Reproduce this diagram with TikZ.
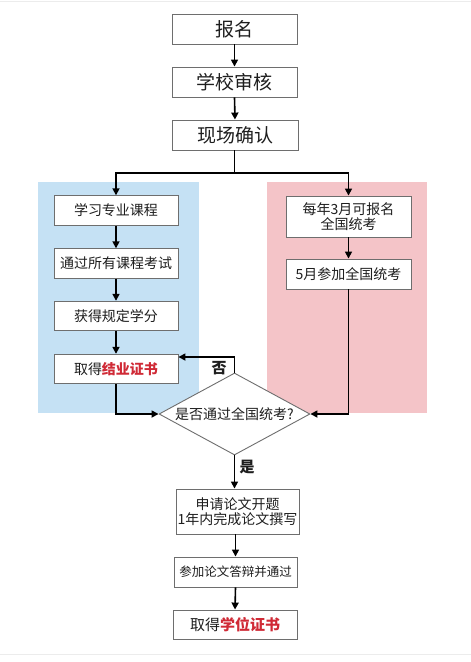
\documentclass[tikz,border=0pt]{standalone}
\usepackage{fontspec}
\newfontfamily\cjk{Noto Sans CJK SC}
\usetikzlibrary{arrows.meta,shapes.geometric}
\definecolor{bgblue}{HTML}{C5E1F4}
\definecolor{bgpink}{HTML}{F4C4C8}
\definecolor{boxline}{HTML}{6E6E6E}
\definecolor{redtxt}{HTML}{D02A36}
\definecolor{txt}{HTML}{1E1E1E}
\tikzset{
  box/.style={draw=boxline, line width=0.9pt, fill=white, text=txt, align=center, inner sep=0pt, font=\cjk\fontsize{14}{16.5}\selectfont},
  bigbox/.style={box, minimum width=125pt, minimum height=30pt, font=\cjk\fontsize{19}{22}\selectfont},
  sidebox/.style={box, minimum width=124pt, minimum height=29.5pt},
  arr/.style={line width=1.6pt, -{Triangle[length=7pt,width=7pt]}},
  conn/.style={line width=1.6pt},
  lbl/.style={font=\cjk\bfseries\fontsize{15}{17}\selectfont, text=txt, inner sep=0pt},
  red/.style={text=redtxt, font=\bfseries}
}
\begin{document}
\begin{tikzpicture}[x=1pt,y=-1pt]
\useasboundingbox (0,0) rectangle (471,662);
\fill[white] (0,0) rectangle (471,662);
\draw[gray!15, line width=0.8pt] (0,1.5) -- (471,1.5);
\draw[gray!15, line width=0.8pt] (0,654) -- (471,654);
% background panels
\fill[bgblue] (38,182) rectangle (199,413);
\fill[bgpink] (267,182) rectangle (427,413);
% main column
\node[bigbox] (r1) at (234.5,29) {报名};
\node[bigbox] (r2) at (234.5,82) {学校审核};
\node[bigbox, minimum width=126pt] (r3) at (235,135) {现场确认};
% left column
\node[sidebox] (L1) at (116,210.5) {学习专业课程};
\node[sidebox] (L2) at (116,263.5) {通过所有课程考试};
\node[sidebox] (L3) at (116,316) {获得规定学分};
\node[sidebox] (L4) at (116,369) {取得{\color{redtxt}\bfseries 结业证书}};
% right column
\node[box, minimum width=125pt, minimum height=41pt] (R1) at (348.5,216.5) {每年3月可报名\\[-2pt]全国统考};
\node[box, minimum width=125pt, minimum height=30pt] (R2) at (348.5,274) {5月参加全国统考};
% decision
\node[diamond, draw=boxline, line width=0.9pt, fill=white, text=txt, inner sep=0pt, aspect=1.84, minimum width=151pt, minimum height=82pt, font=\cjk\fontsize{14}{16}\selectfont] (D) at (234.5,414) {是否通过全国统考?};
% bottom column
\node[box, minimum width=123pt, minimum height=45pt] (B1) at (237.5,511.5) {申请论文开题\\[-2pt]1年内完成论文撰写};
\node[box, minimum width=123pt, minimum height=30pt, font=\cjk\fontsize{12.5}{15}\selectfont] (B2) at (235.5,572) {参加论文答辩并通过};
\node[box, minimum width=124pt, minimum height=29pt, font=\cjk\fontsize{15}{17}\selectfont] (B3) at (235,624.5) {取得{\color{redtxt}\bfseries 学位证书}};
% connectors
\draw[arr] (r1.south) -- (r2.north);
\draw[arr] (r2.south) -- (r3.north);
\coordinate (split) at (234.5,173);
\draw[conn] (r3.south -| split) -- (split);
\draw[arr] (split) -| (L1.north);
\draw[arr] (split) -| (R1.north);
\draw[arr] (L1.south) -- (L2.north);
\draw[arr] (L2.south) -- (L3.north);
\draw[arr] (L3.south) -- (L4.north);
\draw[arr] (R1.south) -- (R2.north);
\draw[arr] (L4.south) |- (D.west);
\draw[arr] (R2.south) |- (D.east);
\coordinate (nk) at (234.5,357);
\draw[arr] (D.north) -- (nk) -- (nk -| L4.east);
\node[lbl] (no) at (219,368) {否};
\draw[arr] (D.south) -- (D.south |- B1.north);
\node[lbl] (yes) at (247,467) {是};
\draw[arr] (B1.south -| B2.north) -- (B2.north);
\draw[arr] (B2.south) -- (B3.north);
\end{tikzpicture}
\end{document}
